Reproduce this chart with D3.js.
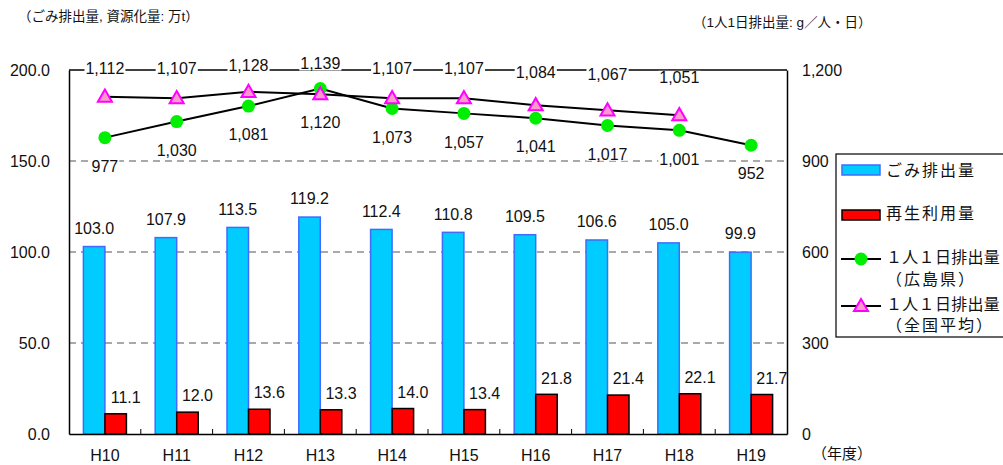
<!DOCTYPE html>
<html><head><meta charset="utf-8">
<script src="https://cdn.jsdelivr.net/npm/d3@7"></script>
<style>
html,body{margin:0;padding:0;background:#fff;overflow:hidden;}
svg{display:block;font-family:"Liberation Sans","Noto Sans CJK JP",sans-serif;}
</style></head>
<body>
<svg id="c" width="1003" height="465"></svg>
<script>
const categories = ["H10","H11","H12","H13","H14","H15","H16","H17","H18","H19"];
const wasteAmount = [103.0,107.9,113.5,119.2,112.4,110.8,109.5,106.6,105.0,99.9];
const recycledAmount = [11.1,12.0,13.6,13.3,14.0,13.4,21.8,21.4,22.1,21.7];
const perCapitaHiroshima = [977,1030,1081,1139,1073,1057,1041,1017,1001,952];
const perCapitaNational = [1112,1107,1128,1120,1107,1107,1084,1067,1051,null];
const leftTicks = [0,50,100,150,200];
const rightTicks = [0,300,600,900,1200];
const legendLabels = ["ごみ排出量","再生利用量",["１人１日排出量","（広島県）"],["１人１日排出量","（全国平均）"]];

const svg = d3.select("#c");
const L=69, R=787, T=70, B=434;
const x = d3.scaleBand().domain(categories).range([L,R]);
const yL = d3.scaleLinear().domain([0,200]).range([B,T]);
const yR = d3.scaleLinear().domain([0,1200]).range([B,T]);
const bw = 21.5;
const fmtL = d3.format(".1f"), fmtR = d3.format(",");

// titles
svg.append("text").attr("x",18).attr("y",17).attr("dominant-baseline","middle")
  .attr("font-size",13.5).attr("fill","#111").text("（ごみ排出量, 資源化量: 万t）");
svg.append("text").attr("x",693).attr("y",23).attr("dominant-baseline","middle")
  .attr("font-size",13.5).attr("fill","#111").text("（1人1日排出量: g／人・日）");

// gridlines
svg.append("g").selectAll("line").data(leftTicks.filter(d=>d>0&&d<200)).join("line")
  .attr("x1",L).attr("x2",R).attr("y1",d=>yL(d)).attr("y2",d=>yL(d))
  .attr("stroke","#555").attr("stroke-width",1.2).attr("stroke-dasharray","7,5");

// bars
const xc = d=>x(d)+x.bandwidth()/2;
svg.append("g").selectAll("rect").data(categories).join("rect")
  .attr("x",d=>xc(d)-bw).attr("width",bw)
  .attr("y",(d,i)=>yL(wasteAmount[i])).attr("height",(d,i)=>B-yL(wasteAmount[i]))
  .attr("fill","#00CCFF").attr("stroke","#3F6BFF").attr("stroke-width",1.5);
svg.append("g").selectAll("rect").data(categories).join("rect")
  .attr("x",d=>xc(d)).attr("width",bw)
  .attr("y",(d,i)=>yL(recycledAmount[i])).attr("height",(d,i)=>B-yL(recycledAmount[i]))
  .attr("fill","#FF0000").attr("stroke","#000").attr("stroke-width",1.5);

// axes frame
const axisL = d3.axisLeft(yL).tickValues(leftTicks).tickFormat(fmtL).tickSize(0).tickPadding(19);
const gL = svg.append("g").attr("transform",`translate(${L},0)`).call(axisL);
const axisR = d3.axisRight(yR).tickValues(rightTicks).tickFormat(fmtR).tickSize(0).tickPadding(15);
const gR = svg.append("g").attr("transform",`translate(${R},0)`).call(axisR);
const axisB = d3.axisBottom(x).tickSize(0).tickPadding(0);
const gB = svg.append("g").attr("transform",`translate(0,${B})`).call(axisB);
[gL,gR,gB].forEach(g=>{
  g.select(".domain").attr("stroke","#000").attr("stroke-width",1.5);
  g.selectAll("text").attr("font-size",16).attr("fill","#111").attr("font-family","Liberation Sans, sans-serif");
});
gB.selectAll(".tick text").attr("y",23).attr("dy",null).attr("dominant-baseline","middle");
svg.append("line").attr("x1",L).attr("x2",R).attr("y1",T).attr("y2",T).attr("stroke","#000").attr("stroke-width",1.3);
// x boundary ticks
svg.append("g").selectAll("line").data(categories.slice(1)).join("line")
  .attr("x1",d=>x(d)).attr("x2",d=>x(d)).attr("y1",B).attr("y2",B-5)
  .attr("stroke","#000").attr("stroke-width",1);
svg.append("text").attr("x",812).attr("y",455).attr("dominant-baseline","middle")
  .attr("font-size",15).attr("fill","#111").text("（年度）");

// lines
const natPts = categories.map((c,i)=>[xc(c),perCapitaNational[i]]).filter(p=>p[1]!=null);
const hirPts = categories.map((c,i)=>[xc(c),perCapitaHiroshima[i]]);
const line = d3.line().x(d=>d[0]).y(d=>yR(d[1]));
svg.append("path").attr("d",line(natPts)).attr("fill","none").attr("stroke","#000").attr("stroke-width",2);
svg.append("path").attr("d",line(hirPts)).attr("fill","none").attr("stroke","#000").attr("stroke-width",2);
const tri = d3.symbol().type(d3.symbolTriangle).size(85);
svg.append("g").selectAll("circle").data(hirPts).join("circle")
  .attr("cx",d=>d[0]).attr("cy",d=>yR(d[1])).attr("r",6.5).attr("fill","#00EE00");
svg.append("g").selectAll("path").data(natPts).join("path")
  .attr("d",tri).attr("transform",d=>`translate(${d[0]},${yR(d[1])+1})`)
  .attr("fill","#FF99CC").attr("stroke","#FF00FF").attr("stroke-width",2);

// bar labels
svg.append("g").selectAll("text").data(categories).join("text")
  .attr("x",d=>xc(d)-bw/2).attr("y",(d,i)=>yL(wasteAmount[i])-17)
  .attr("text-anchor","middle").attr("dominant-baseline","middle")
  .attr("font-size",16).attr("fill","#111").text((d,i)=>fmtL(wasteAmount[i]));
svg.append("g").selectAll("text").data(categories).join("text")
  .attr("x",d=>xc(d)+bw/2+10).attr("y",(d,i)=>yL(recycledAmount[i])-15)
  .attr("text-anchor","middle").attr("dominant-baseline","middle")
  .attr("font-size",16).attr("fill","#111").text((d,i)=>fmtL(recycledAmount[i]));

// line labels: higher value above, lower below
const lblG = svg.append("g");
function lineLabel(cx,v,above){
  const py = yR(v);
  const ly = above ? 0.5*py+21 : py+30;
  const g = lblG.append("g");
  const t = g.append("text").attr("x",cx).attr("y",ly).attr("text-anchor","middle")
    .attr("dominant-baseline","middle").attr("font-size",16).attr("fill","#111").text(fmtR(v));
  const bb = t.node().getBBox();
  g.insert("rect","text").attr("x",bb.x-1).attr("y",bb.y+2).attr("width",bb.width+2).attr("height",bb.height-4).attr("fill","#fff");
}
categories.forEach((c,i)=>{
  const h = perCapitaHiroshima[i], n = perCapitaNational[i];
  if(n==null){ lineLabel(xc(c),h,false); return; }
  lineLabel(xc(c),n,n>=h);
  lineLabel(xc(c),h,h>n);
});

// legend
const lg = svg.append("g");
lg.append("rect").attr("x",836).attr("y",154).attr("width",200).attr("height",183)
  .attr("fill","#fff").attr("stroke","#000").attr("stroke-width",1.2);
lg.append("rect").attr("x",842).attr("y",165).attr("width",38).attr("height",10)
  .attr("fill","#00CCFF").attr("stroke","#3F6BFF").attr("stroke-width",1.5);
lg.append("rect").attr("x",842).attr("y",210).attr("width",38).attr("height",10)
  .attr("fill","#FF0000").attr("stroke","#000").attr("stroke-width",1.5);
lg.append("line").attr("x1",841).attr("x2",881).attr("y1",259).attr("y2",259).attr("stroke","#000").attr("stroke-width",2);
lg.append("circle").attr("cx",861).attr("cy",259).attr("r",6.5).attr("fill","#00EE00");
lg.append("line").attr("x1",841).attr("x2",881).attr("y1",306).attr("y2",306).attr("stroke","#000").attr("stroke-width",2);
lg.append("path").attr("d",tri).attr("transform","translate(861,307)")
  .attr("fill","#FF99CC").attr("stroke","#FF00FF").attr("stroke-width",2);
const legY = [[172],[215],[259,281],[306,327]];
legendLabels.forEach((lab,i)=>{
  const arr = Array.isArray(lab)?lab:[lab];
  arr.forEach((s,j)=>{
    lg.append("text").attr("x",886).attr("y",legY[i][j]).attr("dominant-baseline","middle")
      .attr("font-size",16).attr("letter-spacing",s.length>6?0.3:2).attr("fill","#111").text(s);
  });
});
</script>
</body></html>
